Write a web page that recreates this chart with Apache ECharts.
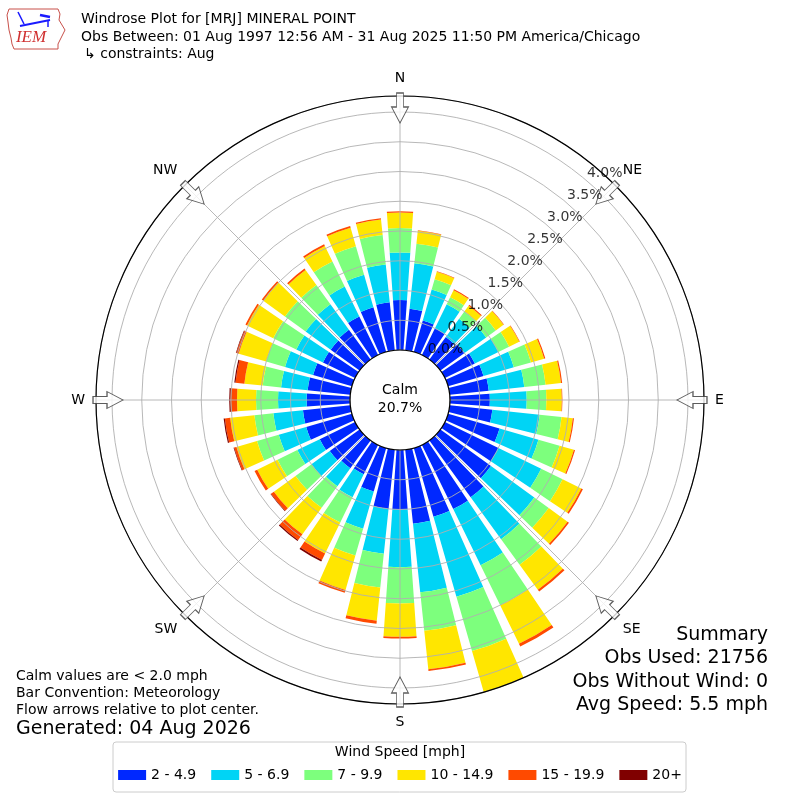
<!DOCTYPE html>
<html><head><meta charset="utf-8">
<script src="https://cdn.jsdelivr.net/npm/echarts@6/dist/echarts.min.js"></script>
<style>html,body{margin:0;padding:0;background:#fff}#c{width:800px;height:800px}</style>
</head><body><div id="c"></div>
<script>
// ---- data ----
const directions = [0,10,20,30,40,50,60,70,80,90,100,110,120,130,140,150,160,170,180,190,200,210,220,230,240,250,260,270,280,290,300,310,320,330,340,350];
const speedBins = ['2 - 4.9','5 - 6.9','7 - 9.9','10 - 14.9','15 - 19.9','20+'];
const binColors = ['#0028ff','#00d4f5','#7dff7d','#ffe600','#ff4a00','#800000'];
const bin2to5   = [0.84,0.70,0.55,0.50,0.47,0.50,0.56,0.62,0.66,0.67,0.72,0.90,1.00,1.05,1.18,1.20,1.20,1.25,1.00,1.00,0.76,0.55,0.58,0.62,0.66,0.80,0.80,0.73,0.72,0.68,0.60,0.60,0.62,0.72,0.78,0.81];
const bin5to7   = [0.80,0.77,0.54,0.45,0.38,0.45,0.44,0.53,0.60,0.62,0.80,0.68,0.80,0.90,0.87,1.05,1.40,1.16,0.97,0.76,0.65,0.43,0.37,0.38,0.42,0.48,0.50,0.48,0.45,0.49,0.50,0.52,0.53,0.56,0.57,0.64];
const bin7to10  = [0.41,0.33,0.18,0.13,0.15,0.20,0.20,0.30,0.36,0.33,0.37,0.37,0.40,0.30,0.53,0.75,0.95,0.65,0.61,0.57,0.47,0.47,0.45,0.33,0.37,0.38,0.32,0.37,0.31,0.33,0.43,0.43,0.40,0.47,0.50,0.50];
const bin10to15 = [0.26,0.22,0.13,0.13,0.12,0.16,0.19,0.23,0.26,0.26,0.19,0.25,0.35,0.39,0.52,0.72,0.75,0.65,0.56,0.56,0.60,0.58,0.55,0.45,0.38,0.36,0.41,0.32,0.31,0.48,0.49,0.45,0.31,0.29,0.32,0.26];
const bin15to20 = [0.02,0.01,0.01,0.02,0.02,0.01,0.01,0.02,0.02,0.01,0.02,0.02,0.03,0.03,0.04,0.05,0.02,0.03,0.03,0.05,0.05,0.12,0.12,0.06,0.05,0.04,0.09,0.11,0.15,0.04,0.03,0.03,0.03,0.03,0.03,0.02];
const bin20plus = [0,0,0,0,0,0,0,0,0,0,0,0,0,0,0,0,0,0,0,0,0,0.03,0.02,0.01,0,0.01,0.02,0.02,0.02,0.01,0,0,0,0,0,0];
const radialTicks = [0.0,0.5,1.0,1.5,2.0,2.5,3.0,3.5,4.0];
const compassNames = ['N','NE','E','SE','S','SW','W','NW'];
const compassAngles = [0,45,90,135,180,225,270,315];
const calmPercent = 20.7;
const summaryLines = ['Summary','Obs Used: 21756','Obs Without Wind: 0','Avg Speed: 5.5 mph'];
const noteLines = ['Calm values are < 2.0 mph','Bar Convention: Meteorology','Flow arrows relative to plot center.'];
const titleLines = ['Windrose Plot for [MRJ] MINERAL POINT','Obs Between: 01 Aug 1997 12:56 AM - 31 Aug 2025 11:50 PM America/Chicago','\u21b3 constraints: Aug'];
const generatedText = 'Generated: 04 Aug 2026';

// ---- chart ----
const F = 'DejaVu Sans';
const RMAX = 4.269;
const allBins = [bin2to5, bin5to7, bin7to10, bin10to15, bin15to20, bin20plus];
const chart = echarts.init(document.getElementById('c'), null, {renderer:'canvas'});

const barSeries = allBins.map((vals, i) => ({
  type: 'bar', name: speedBins[i], coordinateSystem: 'polar', polarIndex: 0,
  stack: 'total', data: vals, barCategoryGap: '20%',
  itemStyle: {color: binColors[i]}, z: 2, clip: true
}));

const iowa = [[9,9],[58,9],[60,14],[59,20],[62,25],[65,30],[62,36],[60,40],[58,44],[58,49],[14,49],[12,44],[11,38],[9,30],[8,22],[7,15],[9,9]];

const graphics = [
  {type:'polyline', shape:{points: iowa}, style:{stroke:'#c8504a', lineWidth:1, fill:null}},
  {type:'line', shape:{x1:20,y1:26,x2:50,y2:20}, style:{stroke:'#1a1aff', lineWidth:2}},
  {type:'line', shape:{x1:18,y1:12,x2:24,y2:24}, style:{stroke:'#1a1aff', lineWidth:1.5}},
  {type:'line', shape:{x1:40,y1:15,x2:50,y2:17}, style:{stroke:'#1a1aff', lineWidth:2.5}},
  {type:'line', shape:{x1:48,y1:20,x2:48,y2:27}, style:{stroke:'#1a1aff', lineWidth:1.5}},
  {type:'text', style:{x:31, y:38, text:'IEM', font:'italic 17px "Liberation Serif"', fill:'#d03030', textAlign:'center', textVerticalAlign:'middle'}},
  ...titleLines.map((t, i) => ({type:'text', style:{x: i===2?84:81, y:[19,37,54][i], text:t, font:'14px "'+F+'"', fill:'#000', textVerticalAlign:'middle'}})),
  {type:'text', z:10, style:{x:400, y:390, text:'Calm', font:'14px "'+F+'"', fill:'#000', textAlign:'center', textVerticalAlign:'middle'}},
  {type:'text', z:10, style:{x:400, y:408, text: calmPercent.toFixed(1)+'%', font:'14px "'+F+'"', fill:'#000', textAlign:'center', textVerticalAlign:'middle'}},
  ...noteLines.map((t, i) => ({type:'text', style:{x:16, y:676+i*17, text:t, font:'14px "'+F+'"', fill:'#000', textVerticalAlign:'middle'}})),
  {type:'text', style:{x:16, y:729, text:generatedText, font:'19px "'+F+'"', fill:'#000', textVerticalAlign:'middle'}},
  ...summaryLines.map((t, i) => ({type:'text', style:{x:768, y:[635,658,682,705][i], text:t, font:'19px "'+F+'"', fill:'#000', textAlign:'right', textVerticalAlign:'middle'}})),
  {type:'rect', shape:{x:113, y:742, width:573, height:50, r:3}, style:{stroke:'#cccccc', lineWidth:1, fill:'#fff'}, z:0},
  {type:'text', style:{x:400, y:752, text:'Wind Speed [mph]', font:'14px "'+F+'"', fill:'#000', textAlign:'center', textVerticalAlign:'middle'}, z:1}
];

const option = {
  animation: false,
  backgroundColor: '#fff',
  textStyle: {fontFamily: F},
  polar: [
    {center: [400, 400], radius: [50, 304]},
    {center: [400, 400], radius: [50, 304]}
  ],
  angleAxis: [
    {polarIndex: 0, type: 'category', data: directions, startAngle: 95, clockwise: true, show: false},
    {polarIndex: 1, type: 'value', min: 0, max: 360, interval: 45, startAngle: 90, clockwise: true, z: 4,
     axisLine: {show: true, lineStyle: {color: '#000', width: 1.2}},
     axisTick: {show: false},
     axisLabel: {show: true, margin: 11, color: '#000', fontSize: 14, fontFamily: F,
       formatter: v => (v >= 360 ? '' : compassNames[compassAngles.indexOf(v)] || '')},
     splitLine: {show: true, lineStyle: {color: '#b0b0b0', width: 0.9}}}
  ],
  radiusAxis: [
    {polarIndex: 0, type: 'value', min: 0, max: RMAX, show: false},
    {polarIndex: 1, type: 'value', min: 0, max: RMAX, interval: 0.5, z: 3,
     axisLine: {show: false}, axisTick: {show: false}, axisLabel: {show: false},
     splitLine: {show: true, lineStyle: {color: '#b0b0b0', width: 0.9}}}
  ],
  legend: {
    data: speedBins, left: 'center', top: 768, padding: 0, itemWidth: 28, itemHeight: 10, itemGap: 15,
    icon: 'rect', selectedMode: false, textStyle: {fontSize: 14, fontFamily: F, color: '#000'}, z: 5
  },
  series: [
    ...barSeries,
    {
      type: 'scatter', coordinateSystem: 'polar', polarIndex: 1, z: 6, silent: true,
      symbol: 'path://M5,0 L12,0 L12,14 L17,14 L8.5,30 L0,14 L5,14 Z',
      symbolSize: [17, 30], symbolRotate: (val) => -val[1],
      itemStyle: {color: '#fff', borderColor: '#333', borderWidth: 1},
      data: compassAngles.map(a => [4.067, a])
    },
    {
      type: 'scatter', coordinateSystem: 'polar', polarIndex: 1, z: 7, silent: true,
      symbolSize: 0,
      label: {show: true, position: 'inside', offset: [12, -13], formatter: '{b}', color: '#000', fontSize: 14, fontFamily: F},
      data: radialTicks.map(t => ({name: t.toFixed(1) + '%', value: [t, 42]}))
    }
  ],
  graphic: graphics
};
chart.setOption(option);
</script></body></html>
